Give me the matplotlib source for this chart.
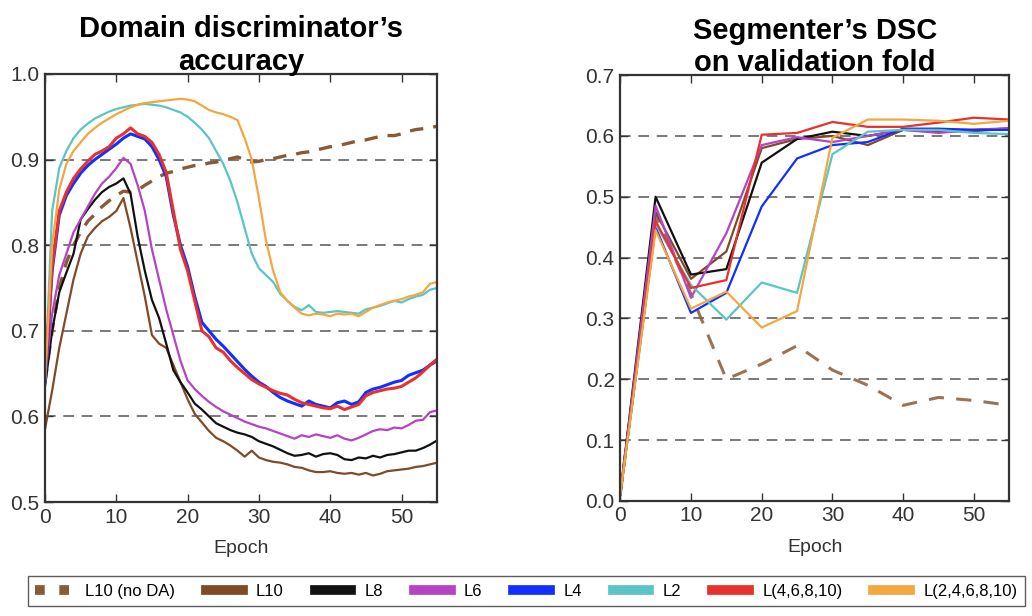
import numpy as np
import matplotlib
matplotlib.use('Agg')
import matplotlib.pyplot as plt

plt.rcParams['font.family'] = ['Liberation Sans', 'DejaVu Sans']

# Series names and colours
names = ['L10 (no DA)', 'L10', 'L8', 'L6', 'L4', 'L2', 'L(4,6,8,10)', 'L(2,4,6,8,10)']
colors = ['#8a5a36', '#804a26', '#111111', '#b444c4', '#1030ff', '#5cc4c4', '#e8302f', '#f4a640']

# Left: domain discriminator accuracy, one value per epoch (0..55)
epochs_acc = list(range(56))
acc_l10_noda = [0.64, 0.70, 0.75, 0.78, 0.80, 0.815, 0.828, 0.836, 0.845, 0.852, 0.858, 0.863, 0.862, 0.864,
                0.87, 0.875, 0.88, 0.884, 0.886, 0.889, 0.891, 0.893, 0.894, 0.896, 0.897, 0.899, 0.901, 0.903,
                0.90, 0.897, 0.898, 0.90, 0.901, 0.903, 0.905, 0.906, 0.908, 0.909, 0.911, 0.913, 0.915, 0.916,
                0.918, 0.92, 0.922, 0.923, 0.925, 0.927, 0.928, 0.928, 0.93, 0.933, 0.935, 0.936, 0.937, 0.939]
acc_l10 = [0.585, 0.63, 0.68, 0.72, 0.76, 0.79, 0.81, 0.82, 0.828, 0.833, 0.84, 0.855, 0.82, 0.78,
           0.74, 0.695, 0.685, 0.68, 0.66, 0.64, 0.62, 0.603, 0.593, 0.583, 0.575, 0.571, 0.566, 0.56,
           0.553, 0.56, 0.552, 0.549, 0.547, 0.546, 0.544, 0.541, 0.54, 0.537, 0.535, 0.535, 0.536, 0.534,
           0.533, 0.534, 0.532, 0.534, 0.531, 0.533, 0.536, 0.537, 0.538, 0.539, 0.541, 0.542, 0.544, 0.546]
acc_l8 = [0.635, 0.70, 0.745, 0.768, 0.79, 0.83, 0.842, 0.853, 0.862, 0.868, 0.872, 0.878, 0.86, 0.81,
          0.77, 0.736, 0.715, 0.685, 0.654, 0.64, 0.628, 0.615, 0.608, 0.60, 0.592, 0.588, 0.584, 0.581,
          0.579, 0.576, 0.571, 0.568, 0.565, 0.561, 0.557, 0.554, 0.555, 0.557, 0.553, 0.556, 0.557, 0.555,
          0.55, 0.549, 0.552, 0.551, 0.554, 0.552, 0.555, 0.556, 0.558, 0.56, 0.56, 0.563, 0.567, 0.572]
acc_l6 = [0.645, 0.72, 0.765, 0.79, 0.815, 0.83, 0.845, 0.86, 0.872, 0.88, 0.89, 0.902, 0.895, 0.87,
          0.84, 0.795, 0.76, 0.725, 0.695, 0.665, 0.642, 0.632, 0.624, 0.617, 0.611, 0.606, 0.602, 0.598,
          0.594, 0.591, 0.588, 0.586, 0.583, 0.58, 0.577, 0.574, 0.578, 0.576, 0.579, 0.577, 0.575, 0.578,
          0.574, 0.572, 0.575, 0.579, 0.583, 0.585, 0.584, 0.587, 0.586, 0.59, 0.595, 0.596, 0.605, 0.607]
acc_l4 = [0.64, 0.77, 0.835, 0.858, 0.872, 0.884, 0.893, 0.90, 0.906, 0.912, 0.918, 0.925, 0.93, 0.927,
          0.924, 0.915, 0.90, 0.88, 0.835, 0.80, 0.775, 0.74, 0.71, 0.70, 0.69, 0.682, 0.673, 0.664,
          0.655, 0.647, 0.64, 0.635, 0.628, 0.622, 0.618, 0.615, 0.612, 0.618, 0.614, 0.612, 0.61, 0.616,
          0.618, 0.614, 0.617, 0.628, 0.632, 0.634, 0.637, 0.64, 0.642, 0.648, 0.651, 0.654, 0.66, 0.665]
acc_l2 = [0.64, 0.84, 0.89, 0.91, 0.925, 0.935, 0.942, 0.948, 0.952, 0.956, 0.959, 0.961, 0.963, 0.964,
          0.965, 0.964, 0.963, 0.961, 0.958, 0.955, 0.95, 0.943, 0.935, 0.925, 0.91, 0.895, 0.875, 0.85,
          0.82, 0.79, 0.773, 0.765, 0.757, 0.743, 0.735, 0.728, 0.724, 0.73, 0.722, 0.721, 0.722, 0.723,
          0.722, 0.721, 0.72, 0.725, 0.727, 0.729, 0.732, 0.735, 0.733, 0.737, 0.74, 0.742, 0.748, 0.75]
acc_l4_10 = [0.65, 0.775, 0.84, 0.862, 0.878, 0.889, 0.898, 0.906, 0.91, 0.915, 0.925, 0.93, 0.937, 0.93,
             0.927, 0.92, 0.906, 0.885, 0.84, 0.795, 0.77, 0.735, 0.70, 0.693, 0.68, 0.675, 0.665, 0.657,
             0.65, 0.643, 0.638, 0.634, 0.63, 0.627, 0.625, 0.62, 0.616, 0.614, 0.612, 0.61, 0.609, 0.612,
             0.608, 0.611, 0.614, 0.624, 0.628, 0.63, 0.632, 0.633, 0.635, 0.64, 0.645, 0.652, 0.66, 0.667]
acc_l2_10 = [0.64, 0.80, 0.865, 0.895, 0.91, 0.92, 0.93, 0.937, 0.943, 0.948, 0.953, 0.957, 0.961, 0.964,
             0.966, 0.967, 0.968, 0.969, 0.97, 0.971, 0.97, 0.968, 0.963, 0.958, 0.955, 0.953, 0.95, 0.946,
             0.925, 0.90, 0.855, 0.805, 0.77, 0.745, 0.735, 0.727, 0.72, 0.718, 0.72, 0.719, 0.717, 0.72,
             0.719, 0.72, 0.717, 0.722, 0.727, 0.73, 0.733, 0.735, 0.737, 0.74, 0.742, 0.745, 0.755, 0.757]

# Right: segmenter DSC, evaluated every 5 epochs
epochs_dsc = [0, 5, 10, 15, 20, 25, 30, 35, 40, 45, 50, 55]
dsc_l10_noda = [0.01, 0.47, 0.34, 0.20, 0.225, 0.255, 0.215, 0.19, 0.157, 0.17, 0.165, 0.157]
dsc_l10 = [0.01, 0.475, 0.365, 0.41, 0.58, 0.595, 0.60, 0.585, 0.61, 0.607, 0.608, 0.612]
dsc_l8 = [0.01, 0.50, 0.372, 0.381, 0.556, 0.595, 0.607, 0.60, 0.61, 0.61, 0.61, 0.612]
dsc_l6 = [0.01, 0.485, 0.334, 0.44, 0.585, 0.598, 0.59, 0.60, 0.61, 0.605, 0.61, 0.613]
dsc_l4 = [0.01, 0.45, 0.309, 0.342, 0.484, 0.563, 0.585, 0.59, 0.612, 0.612, 0.61, 0.61]
dsc_l2 = [0.01, 0.455, 0.355, 0.298, 0.359, 0.342, 0.57, 0.607, 0.61, 0.61, 0.605, 0.603]
dsc_l4_10 = [0.01, 0.46, 0.35, 0.363, 0.602, 0.605, 0.623, 0.615, 0.615, 0.622, 0.63, 0.627]
dsc_l2_10 = [0.01, 0.445, 0.316, 0.344, 0.285, 0.312, 0.597, 0.627, 0.627, 0.625, 0.62, 0.625]

acc_series = [acc_l10_noda, acc_l10, acc_l8, acc_l6, acc_l4, acc_l2, acc_l4_10, acc_l2_10]
dsc_series = [dsc_l10_noda, dsc_l10, dsc_l8, dsc_l6, dsc_l4, dsc_l2, dsc_l4_10, dsc_l2_10]

fig = plt.figure(figsize=(10.32, 6.16), dpi=100)
ax1 = fig.add_axes([0.0436, 0.185, 0.380, 0.695])
ax2 = fig.add_axes([0.601, 0.187, 0.377, 0.691])

text_col = '#333333'
for i, name in enumerate(names):
    lw = 2.2 if name in ('L4', 'L(4,6,8,10)') else 1.6
    if i == 0:
        ax1.plot(epochs_acc, acc_series[i], color=colors[i], lw=2.4, dashes=(4, 3), label=name)
        ax2.plot(epochs_dsc, dsc_series[i], color=colors[i], lw=2.2, alpha=0.85, dashes=(5, 4))
    else:
        ax1.plot(epochs_acc, acc_series[i], color=colors[i], lw=lw, label=name)
        ax2.plot(epochs_dsc, dsc_series[i], color=colors[i], lw=1.6)

for ax in (ax1, ax2):
    ax.set_xlim(0, 55)
    ax.set_xticks(range(0, 60, 10))
    ax.yaxis.grid(True, color='#555555', linestyle=(0, (7, 5)), linewidth=1.1)
    ax.set_axisbelow(True)
    ax.tick_params(direction='in', top=True, right=True, length=6, width=1,
                   labelsize=15, colors=text_col, pad=4)
    for s in ax.spines.values():
        s.set_color('#333333')
        s.set_linewidth(1.6)
    ax.set_xlabel('Epoch', fontsize=14, color=text_col, labelpad=10)

ax1.set_ylim(0.5, 1.0)
ax1.set_yticks(np.arange(0.5, 1.01, 0.1))
ax1.set_yticklabels(['0.5', '0.6', '0.7', '0.8', '0.9', '1.0'])
ax2.set_ylim(0.0, 0.7)
ax2.set_yticks(np.arange(0.0, 0.71, 0.1))
ax2.set_yticklabels(['0.0', '0.1', '0.2', '0.3', '0.4', '0.5', '0.6', '0.7'])

ax1.set_title("Domain discriminator’s\naccuracy", fontsize=21, fontweight='bold', pad=3, linespacing=1.2)
ax2.set_title("Segmenter’s DSC\non validation fold", fontsize=21, fontweight='bold', pad=3, linespacing=1.2)

handles, labels = ax1.get_legend_handles_labels()
leg = fig.legend(handles, labels, loc='lower center', bbox_to_anchor=(0.51, 0.002), ncol=8,
                 fontsize=12, handlelength=2.2, handletextpad=0.8, columnspacing=1.85,
                 fancybox=False, edgecolor='#333333', borderpad=0.45)
leg.get_frame().set_linewidth(1.0)
for k, h in enumerate(leg.get_lines()):
    h.set_linewidth(7)
    if k == 0:
        h.set_dashes((1, 1.5))

plt.savefig('out.png', dpi=100)
